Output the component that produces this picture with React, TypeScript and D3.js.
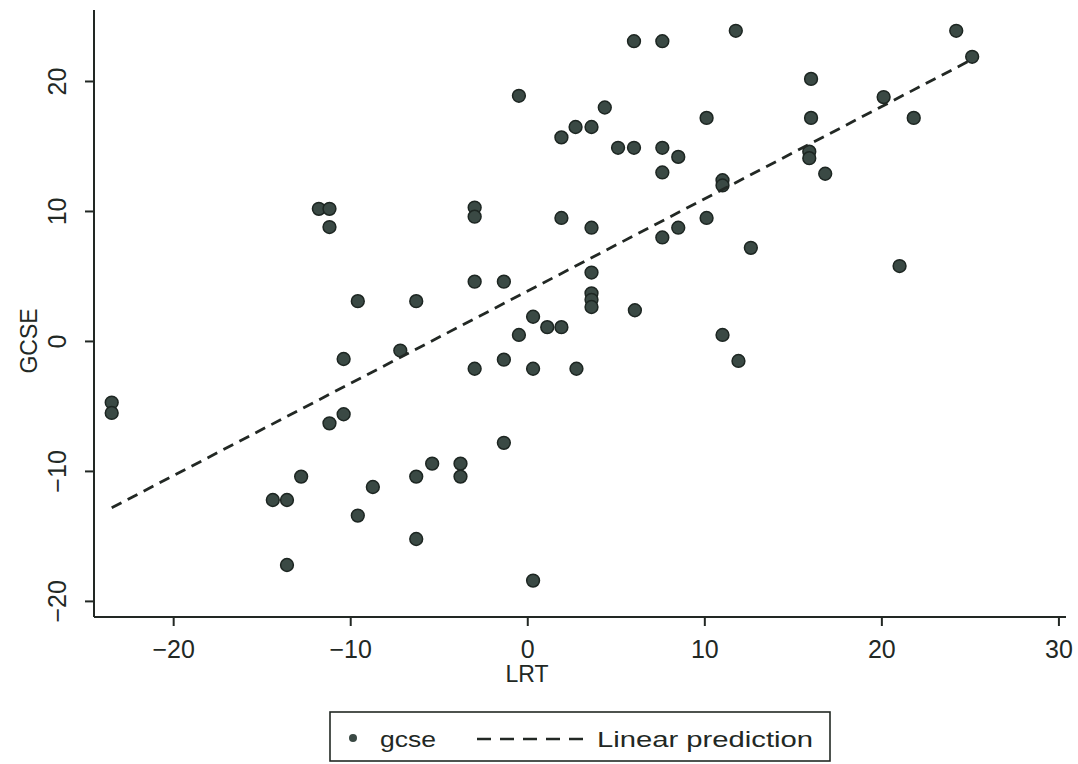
import { useEffect, useRef } from "react"
import * as d3 from "d3"

// LRT (x) and GCSE (y) scores
const lrt = [
  -23.5, -23.5, -14.4, -13.6, -13.6, -12.8, -11.8, -11.2, -11.2, -11.2,
  -10.4, -10.4, -9.6, -9.6, -8.75, -7.2, -6.3, -6.3, -6.3, -5.4,
  -3.8, -3.8, -3.0, -3.0, -3.0, -3.0, -1.35, -1.35, -1.35, -0.5,
  -0.5, 0.3, 0.3, 0.3, 1.1, 1.9, 1.9, 1.9, 2.7, 2.75,
  3.6, 3.6, 3.6, 3.6, 3.6, 3.6, 4.35, 5.1, 6.0, 6.0,
  6.05, 7.6, 7.6, 7.6, 7.6, 8.5, 8.5, 10.1, 10.1, 11.0,
  11.0, 11.0, 11.75, 11.9, 12.6, 16.0, 16.0, 15.9, 15.9, 16.8,
  20.1, 21.0, 21.8, 24.2, 25.1,
]
const gcse = [
  -4.7, -5.5, -12.2, -12.2, -17.2, -10.4, 10.2, 10.2, 8.8, -6.3,
  -1.35, -5.6, 3.1, -13.4, -11.2, -0.7, 3.1, -10.4, -15.2, -9.4,
  -9.4, -10.4, 10.3, 9.6, 4.6, -2.1, 4.6, -1.4, -7.8, 18.9,
  0.5, 1.9, -2.1, -18.4, 1.1, 1.1, 15.7, 9.5, 16.5, -2.1,
  16.5, 8.75, 5.3, 3.7, 3.2, 2.65, 18.0, 14.9, 14.9, 23.1,
  2.4, 23.1, 14.9, 13.0, 8.0, 14.2, 8.75, 17.2, 9.5, 12.4,
  12.0, 0.5, 23.9, -1.5, 7.2, 20.2, 17.2, 14.6, 14.1, 12.9,
  18.8, 5.8, 17.2, 23.9, 21.9,
]

// fitted line, endpoints as drawn
const predX = [-23.5, 25.1]
const predY = [-12.8, 21.7]

const xTicks = [-20, -10, 0, 10, 20, 30]
const yTicks = [-20, -10, 0, 10, 20]

const W = 1078
const H = 764
const font = "'Liberation Sans', Arial, Helvetica, sans-serif"
const ink = "#222824"

export default function App() {
  const ref = useRef<SVGSVGElement>(null)

  useEffect(() => {
    const svg = d3.select(ref.current)
    svg.selectAll("*").remove()

    const x = d3.scaleLinear().domain([-24.5, 30.4]).range([94, 1066])
    const y = d3.scaleLinear().domain([-21.2, 25.5]).range([617, 10])
    const fmt = (v: number) => (v < 0 ? "\u2212" + Math.abs(v) : String(v))

    svg.append("rect").attr("width", W).attr("height", H).attr("fill", "#fff")

    // axes
    const ax = svg.append("g").attr("stroke", ink).attr("stroke-width", 2)
    ax.append("line").attr("x1", 94).attr("x2", 94).attr("y1", 10).attr("y2", 617)
    ax.append("line").attr("x1", 94).attr("x2", 1066).attr("y1", 617).attr("y2", 617)

    ax.selectAll(".xt")
      .data(xTicks)
      .enter()
      .append("line")
      .attr("x1", (d) => x(d))
      .attr("x2", (d) => x(d))
      .attr("y1", 617)
      .attr("y2", 626)

    ax.selectAll(".yt")
      .data(yTicks)
      .enter()
      .append("line")
      .attr("x1", 85)
      .attr("x2", 94)
      .attr("y1", (d) => y(d))
      .attr("y2", (d) => y(d))

    svg.selectAll(".xl")
      .data(xTicks)
      .enter()
      .append("text")
      .attr("x", (d) => x(d))
      .attr("y", 658)
      .attr("text-anchor", "middle")
      .attr("font-family", font)
      .attr("font-size", 25)
      .attr("fill", ink)
      .text(fmt)

    svg.selectAll(".yl")
      .data(yTicks)
      .enter()
      .append("text")
      .attr("transform", (d) => `translate(66,${y(d)}) rotate(-90)`)
      .attr("text-anchor", "middle")
      .attr("font-family", font)
      .attr("font-size", 25)
      .attr("fill", ink)
      .text(fmt)

    svg.append("text")
      .attr("x", 527)
      .attr("y", 682)
      .attr("text-anchor", "middle")
      .attr("font-family", font)
      .attr("font-size", 23)
      .attr("fill", ink)
      .text("LRT")

    svg.append("text")
      .attr("transform", "translate(37,341) rotate(-90)")
      .attr("text-anchor", "middle")
      .attr("font-family", font)
      .attr("font-size", 23)
      .attr("fill", ink)
      .text("GCSE")

    // points
    const pts = lrt.map((v, i) => [v, gcse[i]])
    svg.append("g")
      .selectAll("circle")
      .data(pts)
      .enter()
      .append("circle")
      .attr("cx", (d) => x(d[0]))
      .attr("cy", (d) => y(d[1]))
      .attr("r", 6.4)
      .attr("fill", "#3a4944")
      .attr("stroke", "#1d2622")
      .attr("stroke-width", 1.5)

    // linear prediction
    const line = d3.line<number>().x((d) => x(d)).y((_, i) => y(predY[i]))
    svg.append("path")
      .attr("d", line(predX))
      .attr("fill", "none")
      .attr("stroke", ink)
      .attr("stroke-width", 2.8)
      .attr("stroke-dasharray", "11 7")

    // legend
    const lg = svg.append("g")
    lg.append("rect")
      .attr("x", 330)
      .attr("y", 712)
      .attr("width", 500)
      .attr("height", 49)
      .attr("fill", "#fff")
      .attr("stroke", ink)
      .attr("stroke-width", 1.6)
    lg.append("circle").attr("cx", 353).attr("cy", 738).attr("r", 4).attr("fill", "#3a4944")
    lg.append("text")
      .attr("x", 380)
      .attr("y", 747)
      .attr("font-family", font)
      .attr("font-size", 22)
      .attr("fill", ink)
      .attr("textLength", 56)
      .attr("lengthAdjust", "spacingAndGlyphs")
      .text("gcse")
    lg.append("line")
      .attr("x1", 477)
      .attr("x2", 590)
      .attr("y1", 739)
      .attr("y2", 739)
      .attr("stroke", ink)
      .attr("stroke-width", 2.6)
      .attr("stroke-dasharray", "14 9")
    lg.append("text")
      .attr("x", 597)
      .attr("y", 747)
      .attr("font-family", font)
      .attr("font-size", 22)
      .attr("fill", ink)
      .attr("textLength", 216)
      .attr("lengthAdjust", "spacingAndGlyphs")
      .text("Linear prediction")
  }, [])

  return (
    <svg
      ref={ref}
      width={W}
      height={H}
      style={{ position: "absolute", top: 0, left: 0, display: "block" }}
    />
  )
}
